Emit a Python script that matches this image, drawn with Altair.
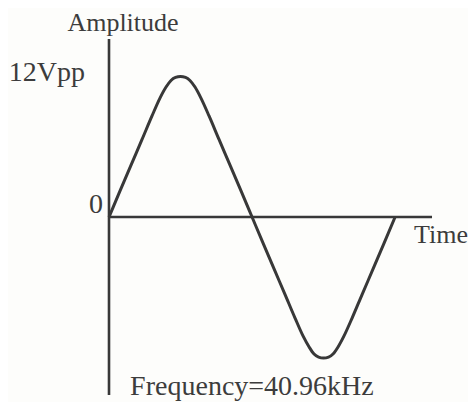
import altair as alt
import pandas as pd

# waveform (time in microseconds, amplitude in volts)
t_us = [0.0, 0.94, 1.88, 2.82, 3.67, 4.35, 4.87, 5.29, 5.68, 6.10, 6.53, 6.91, 7.34, 7.85, 8.54, 9.39, 10.33, 11.27,
        12.21, 13.15, 14.09, 15.03, 15.88, 16.56, 17.08, 17.50, 17.89, 18.31, 18.74, 19.12, 19.55, 20.06, 20.75,
        21.60, 22.54, 23.48, 24.42]
volts = [0.0, 1.11, 2.21, 3.30, 4.30, 5.06, 5.53, 5.81, 5.94, 5.98, 5.94, 5.81, 5.53, 5.06, 4.30, 3.30, 2.21, 1.11,
         0.0, -1.11, -2.21, -3.30, -4.30, -5.06, -5.53, -5.83, -5.96, -6.00, -5.96, -5.83, -5.53, -5.06, -4.30,
         -3.30, -2.21, -1.11, 0.0]

time_axis_end = 27.57
amp_axis_top = 7.57
amp_axis_bottom = -7.57
peak_v = 6.0
half_period = 12.2

labels_axis = ["Amplitude", "Time"]
label_peak = "12Vpp"
label_zero = "0"
label_freq = "Frequency=40.96kHz"

wave = pd.DataFrame({"t": t_us, "v": volts})

xs = alt.Scale(domain=[-8.621, 30.642], nice=False, zero=False)
ys = alt.Scale(domain=[-7.872, 8.894], nice=False, zero=False)
X = lambda f: alt.X(f, type="quantitative", scale=xs, axis=None)
Y = lambda f: alt.Y(f, type="quantitative", scale=ys, axis=None)

ink = "#383838"
txt_ink = "#3c3c3c"
font = "Liberation Serif"
fs = 28

curve = alt.Chart(wave).mark_line(color=ink, strokeWidth=3, interpolate="monotone").encode(
    x=X("t"), y=Y("v"))

haxis = alt.Chart(pd.DataFrame({"t0": [0.0], "t1": [time_axis_end], "v": [0.0]})).mark_rule(
    color=ink, strokeWidth=2.6).encode(x=X("t0"), x2="t1", y=Y("v"))
vaxis = alt.Chart(pd.DataFrame({"t": [0.0], "v0": [amp_axis_bottom], "v1": [amp_axis_top]})).mark_rule(
    color=ink, strokeWidth=2.6).encode(x=X("t"), y=Y("v0"), y2="v1")

def txt(df, **kw):
    base = dict(font=font, fontSize=fs, color=txt_ink, baseline="middle")
    base.update(kw)
    return alt.Chart(df).mark_text(**base).encode(x=X("t"), y=Y("v"), text="s:N")

amp = txt(pd.DataFrame({"t": [0.0], "v": [amp_axis_top], "s": [labels_axis[0]]}), align="center", dx=14, dy=-16,
          fontSize=26)
peak = txt(pd.DataFrame({"t": [0.0], "v": [peak_v], "s": [label_peak]}), align="right", dx=-24, dy=-3)
zero = txt(pd.DataFrame({"t": [0.0], "v": [0.0], "s": [label_zero]}), align="right", dx=-6, dy=-12)
tim = txt(pd.DataFrame({"t": [time_axis_end], "v": [0.0], "s": [labels_axis[1]]}), align="left", dx=-18,
          dy=18, fontSize=26)
freq = txt(pd.DataFrame({"t": [half_period], "v": [amp_axis_bottom], "s": [label_freq]}), align="center", dx=0, dy=-8)

chart = alt.layer(haxis, vaxis, curve, amp, peak, zero, tim, freq).properties(
    width=460, height=394, autosize=alt.AutoSizeParams(type="none"), padding=0,
    background="#fdfdfb"
).configure_view(stroke=None)

chart.save("out.html", embed_options={"renderer": "svg", "actions": False})
